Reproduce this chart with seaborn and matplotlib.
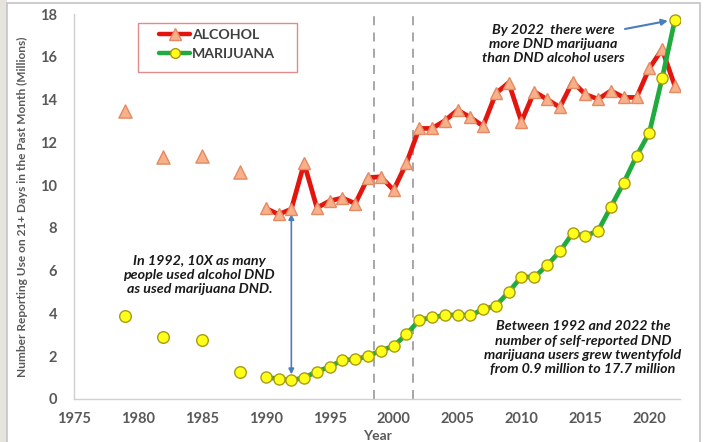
import matplotlib
matplotlib.use("Agg")
import matplotlib.pyplot as plt
import matplotlib.patches as mpatches
from matplotlib.lines import Line2D
from matplotlib.ticker import MultipleLocator
import seaborn as sns
import pandas as pd

sns.set_theme(style="white")
plt.rcParams['font.family'] = ['Lato', 'DejaVu Sans']

# ---- data ----
early_years = [1979, 1982, 1985, 1988]
early_alcohol = [13.45, 11.33, 11.37, 10.63]
early_marijuana = [3.9, 2.91, 2.76, 1.28]

years = list(range(1990, 2023))
alcohol = [8.92, 8.63, 8.88, 11.02, 8.94, 9.26, 9.40, 9.14, 10.35, 10.39,
           9.77, 11.02, 12.65, 12.65, 13.01, 13.51, 13.17, 12.76, 14.29, 14.79,
           12.97, 14.37, 14.01, 13.64, 14.83, 14.24, 14.02, 14.41, 14.10, 14.10,
           15.46, 16.35, 14.63]
marijuana = [1.04, 0.93, 0.87, 1.00, 1.28, 1.51, 1.82, 1.85, 2.01, 2.26,
             2.48, 3.02, 3.69, 3.82, 3.91, 3.94, 3.91, 4.19, 4.36, 5.00,
             5.72, 5.69, 6.25, 6.90, 7.75, 7.62, 7.87, 8.99, 10.11, 11.36,
             12.45, 14.99, 17.72]

method_changes = [1998.5, 2001.5]

df = pd.DataFrame({"Year": years, "Alcohol": alcohol, "Marijuana": marijuana})
df_early = pd.DataFrame({"Year": early_years, "Alcohol": early_alcohol,
                         "Marijuana": early_marijuana})

RED = "#e3150f"
TRI_FACE = "#f6b08a"
TRI_EDGE = "#e58a62"
GREEN = "#1fab3e"
YEL_FACE = "#ffff1a"
YEL_EDGE = "#a89a14"
GRAY = "#595959"

fig = plt.figure(figsize=(7.04, 4.42), dpi=100)
ax = fig.add_axes([74/704, 1-399/442, (680-74)/704, (399-14)/442])

# outer frame like the screenshot
fig.patches.append(mpatches.Rectangle((0, 0), 7/704, 1, transform=fig.transFigure,
                                      facecolor="#e6e4dc", edgecolor="none", zorder=-5))
fig.patches.append(mpatches.Rectangle((7/704, -0.02), 693/704, 1.02-3/442,
                                      transform=fig.transFigure, facecolor="none",
                                      edgecolor="#c4c4c4", lw=1.2, zorder=-4))

for xv in method_changes:
    ax.axvline(xv, color="#a0a0a0", ls=(0, (5, 4)), lw=1.3, zorder=1)

sns.lineplot(data=df, x="Year", y="Alcohol", ax=ax, color=RED, lw=3.4,
             marker="^", markersize=9, markerfacecolor=TRI_FACE,
             markeredgecolor=TRI_EDGE, markeredgewidth=1, zorder=3)
sns.lineplot(data=df, x="Year", y="Marijuana", ax=ax, color=GREEN, lw=3.4,
             marker="o", markersize=8, markerfacecolor=YEL_FACE,
             markeredgecolor=YEL_EDGE, markeredgewidth=1, zorder=4)
sns.scatterplot(data=df_early, x="Year", y="Alcohol", ax=ax, marker="^", s=90,
                color=TRI_FACE, edgecolor=TRI_EDGE, linewidth=1, zorder=3)
sns.scatterplot(data=df_early, x="Year", y="Marijuana", ax=ax, marker="o", s=70,
                color=YEL_FACE, edgecolor=YEL_EDGE, linewidth=1, zorder=4)

ax.set_xlim(1975, 2022.4)
ax.set_ylim(0, 18)
ax.xaxis.set_major_locator(MultipleLocator(5))
ax.xaxis.set_minor_locator(MultipleLocator(1))
ax.yaxis.set_major_locator(MultipleLocator(2))
ax.yaxis.set_minor_locator(MultipleLocator(1))

for s in ["top", "right"]:
    ax.spines[s].set_visible(False)
for s in ["left", "bottom"]:
    ax.spines[s].set_color("#d0d0d0")
    ax.spines[s].set_linewidth(1)
ax.tick_params(axis="both", which="major", direction="out", length=5, width=1,
               color="#c8c8c8", labelsize=10.5, labelcolor=GRAY, pad=4)
ax.tick_params(axis="both", which="minor", direction="inout", length=5, width=0.8,
               color="#d0d0d0")
ax.tick_params(axis="x", which="major", direction="inout", length=7)
ax.tick_params(axis="y", which="major", length=8)
ax.tick_params(axis="x", which="major", pad=6)
for lab in ax.get_xticklabels() + ax.get_yticklabels():
    lab.set_fontweight("bold")

ax.set_xlabel("Year", fontsize=10, fontweight="bold", color=GRAY, labelpad=3)
ax.set_ylabel("Number Reporting Use on 21+ Days in the Past Month (Millions)",
              fontsize=8.6, fontweight="bold", color=GRAY, labelpad=9)

# legend (frame drawn as a separate box to match its padding)
handles = [
    Line2D([], [], color=RED, lw=3.2, marker="^", markersize=8,
           markerfacecolor=TRI_FACE, markeredgecolor=TRI_EDGE),
    Line2D([], [], color=GREEN, lw=3.2, marker="o", markersize=7,
           markerfacecolor=YEL_FACE, markeredgecolor=YEL_EDGE),
]
leg = ax.legend(handles, ["ALCOHOL", "MARIJUANA"], loc="upper left",
                bbox_to_anchor=((159-74)/606, 1-(29-14)/385), frameon=False,
                fontsize=10.2, handlelength=2.2, handletextpad=0.1,
                borderpad=0, labelspacing=0.5, borderaxespad=0)
for t in leg.get_texts():
    t.set_color("#404040")
    t.set_fontweight("bold")
ax.add_patch(mpatches.Rectangle(((138-74)/606, 1-(72-14)/385), (297-138)/606,
                                49/385, transform=ax.transAxes, facecolor="white",
                                edgecolor="#e08a8a", lw=1, zorder=2))

txt_kw = dict(ha="center", va="center", fontsize=10.3, fontweight="bold",
              fontstyle="italic", color="#1a1a1a", linespacing=1.22)
ax.text(2012.5, 16.6, "By 2022  there were\nmore DND marijuana\nthan DND alcohol users", **txt_kw)
ax.text(1984.8, 5.8, "In 1992, 10X as many\npeople used alcohol DND\nas used marijuana DND.", **txt_kw)
ax.text(2014.8, 2.4, "Between 1992 and 2022 the\nnumber of self-reported DND\n"
        "marijuana users grew twentyfold\nfrom 0.9 million to 17.7 million", **txt_kw)

ARROW = "#4a7ebb"
ax.annotate("", xy=(1992, 8.65), xytext=(1992, 1.15),
            arrowprops=dict(arrowstyle="<|-|>", color=ARROW, lw=1.2,
                            mutation_scale=8, shrinkA=0, shrinkB=0), zorder=2)
ax.annotate("", xy=(2021.45, 17.68), xytext=(2018.1, 17.3),
            arrowprops=dict(arrowstyle="-|>", color=ARROW, lw=1.5,
                            mutation_scale=9, shrinkA=0, shrinkB=0), zorder=5)

fig.savefig("out.png", dpi=100)
